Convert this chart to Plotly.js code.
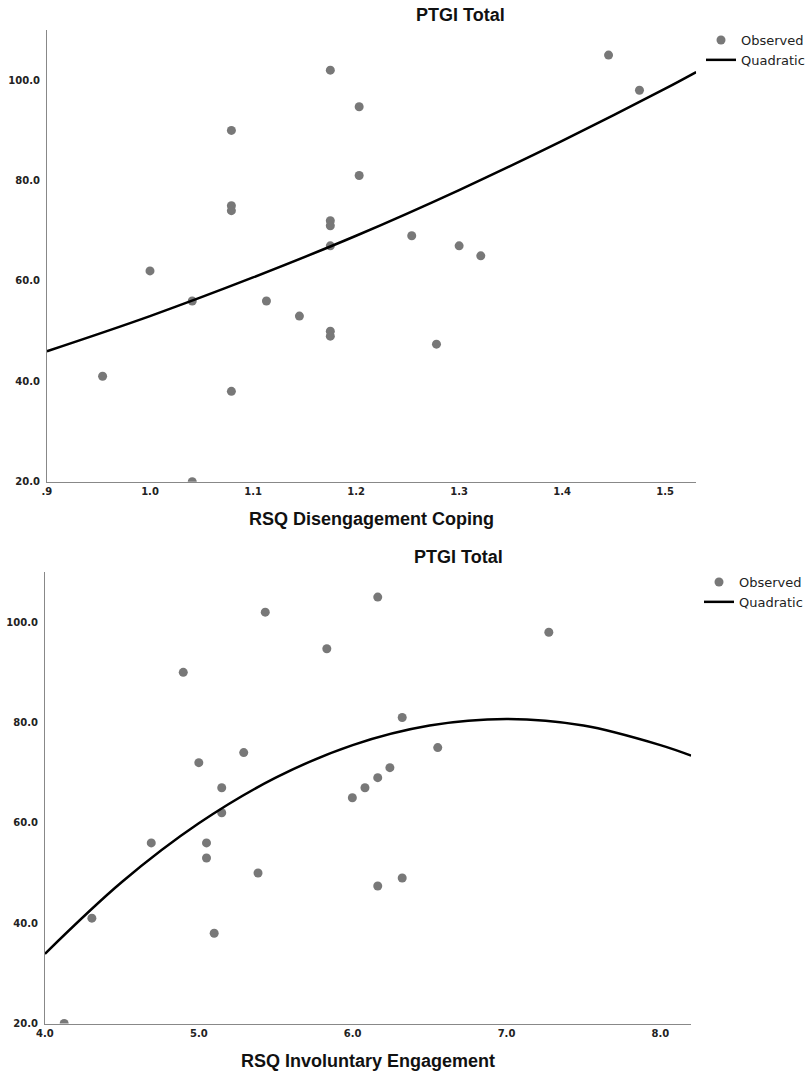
<!DOCTYPE html>
<html>
<head>
<meta charset="utf-8">
<script src="https://cdn.plot.ly/plotly-3.0.1.min.js"></script>
<style>html,body{margin:0;padding:0;background:#fff;}#chart{width:810px;height:1080px;}</style>
</head>
<body>
<div id="chart"></div>
<script>
// ---- Data ----
const chartTitle = "PTGI Total";
const topXTitle = "RSQ Disengagement Coping";
const botXTitle = "RSQ Involuntary Engagement";

// Top panel: observed points
const disengagementX = [0.954, 1.000, 1.041, 1.041, 1.079, 1.079, 1.079, 1.079, 1.113, 1.145, 1.175, 1.175,
                        1.175, 1.175, 1.175, 1.175, 1.203, 1.203, 1.254, 1.278, 1.300, 1.321, 1.445, 1.475];
const ptgiTop        = [41, 62, 56, 20, 90, 75, 74, 38, 56, 53, 102, 72,
                        71, 67, 50, 49, 94.7, 81, 69, 47.4, 67, 65, 105, 98];
// Top panel: quadratic fit read at sample positions
const quadTopX = [0.9, 1.0, 1.1, 1.2, 1.3, 1.4, 1.5, 1.53];
const quadTopY = [46.0, 53.0, 60.7, 69.0, 78.1, 87.9, 98.3, 101.6];

// Bottom panel: observed points
const involuntaryX = [5.432, 5.832, 4.899, 5.292, 5.000, 5.149, 5.149, 5.998, 4.691, 5.050, 5.050, 5.385,
                      4.305, 5.100, 4.125, 6.163, 7.275, 6.322, 6.553, 6.242, 6.163, 6.080, 6.322, 6.163];
const ptgiBottom   = [102, 94.7, 90, 74, 72, 67, 62, 65, 56, 56, 53, 50,
                      41, 38, 20, 105, 98, 81, 75, 71, 69, 67, 49, 47.4];
// Bottom panel: quadratic fit read at sample positions
const quadBotX = [4.0, 4.5, 5.0, 5.5, 6.0, 6.5, 7.0, 7.5, 8.0, 8.2];
const quadBotY = [33.9, 48.2, 59.9, 69.0, 75.5, 79.4, 80.7, 79.4, 75.5, 73.4];

// Tick labels
const topTickVals = [0.9, 1.0, 1.1, 1.2, 1.3, 1.4, 1.5];
const topTickText = [".9", "1.0", "1.1", "1.2", "1.3", "1.4", "1.5"];
const botTickVals = [4, 5, 6, 7, 8];
const botTickText = ["4.0", "5.0", "6.0", "7.0", "8.0"];
const yTickVals = [20, 40, 60, 80, 100];
const yTickText = ["20.0", "40.0", "60.0", "80.0", "100.0"];

// ---- Styles ----
const dotColor = "#787878";
const tickFont = {family: "DejaVu Sans", size: 10, color: "#222", weight: "bold"};
const titleFont = {family: "Liberation Sans, Arial, sans-serif", size: 18, color: "#111", weight: "bold"};
const legendFont = {family: "DejaVu Sans", size: 13, color: "#222"};

const traces = [
  {x: disengagementX, y: ptgiTop, type: "scatter", mode: "markers", name: "Observed",
   marker: {color: dotColor, size: 9}, xaxis: "x", yaxis: "y", legend: "legend"},
  {x: quadTopX, y: quadTopY, type: "scatter", mode: "lines", name: "Quadratic",
   line: {color: "#000", width: 2.5, shape: "spline"}, xaxis: "x", yaxis: "y", legend: "legend"},
  {x: involuntaryX, y: ptgiBottom, type: "scatter", mode: "markers", name: "Observed",
   marker: {color: dotColor, size: 9}, xaxis: "x2", yaxis: "y2", legend: "legend2"},
  {x: quadBotX, y: quadBotY, type: "scatter", mode: "lines", name: "Quadratic",
   line: {color: "#000", width: 2.5, shape: "spline"}, xaxis: "x2", yaxis: "y2", legend: "legend2"}
];

function xAxis(domain, range, vals, text, title, anchor) {
  return {domain: domain, range: range, anchor: anchor, tickvals: vals, ticktext: text,
    showgrid: false, zeroline: false, showline: true, linecolor: "#888", linewidth: 1,
    ticks: "", tickfont: tickFont, fixedrange: true,
    title: {text: title, font: titleFont, standoff: 16}};
}
function yAxis(domain, anchor) {
  return {domain: domain, range: [20, 110], anchor: anchor, tickvals: yTickVals, ticktext: yTickText,
    showgrid: false, zeroline: false, showline: true, linecolor: "#888", linewidth: 1,
    ticks: "", tickfont: tickFont, ticklabelstandoff: 4, fixedrange: true};
}

const layout = {
  width: 810, height: 1080,
  margin: {l: 0, r: 0, t: 0, b: 0},
  paper_bgcolor: "#fff", plot_bgcolor: "#fff",
  showlegend: true,
  xaxis: xAxis([47/810, 697/810], [0.9, 1.53], topTickVals, topTickText, topXTitle, "y"),
  yaxis: yAxis([1 - 481.7/1080, 1 - 30/1080], "x"),
  xaxis2: xAxis([45/810, 692/810], [4.0, 8.2], botTickVals, botTickText, botXTitle, "y2"),
  yaxis2: yAxis([1 - 1023.5/1080, 1 - 572/1080], "x2"),
  legend: {x: 702/810, y: 1 - 25/1080, xanchor: "left", yanchor: "top", font: legendFont,
           bgcolor: "rgba(0,0,0,0)", itemwidth: 30, tracegroupgap: 0},
  legend2: {x: 699/810, y: 1 - 567/1080, xanchor: "left", yanchor: "top", font: legendFont,
           bgcolor: "rgba(0,0,0,0)", itemwidth: 30, tracegroupgap: 0},
  annotations: [
    {text: chartTitle, xref: "paper", yref: "paper", x: 461/810, y: 1 - 15/1080,
     xanchor: "center", yanchor: "middle", showarrow: false, font: titleFont},
    {text: chartTitle, xref: "paper", yref: "paper", x: 459/810, y: 1 - 557/1080,
     xanchor: "center", yanchor: "middle", showarrow: false, font: titleFont}
  ]
};

Plotly.newPlot("chart", traces, layout, {displayModeBar: false, staticPlot: true});
</script>
</body>
</html>
